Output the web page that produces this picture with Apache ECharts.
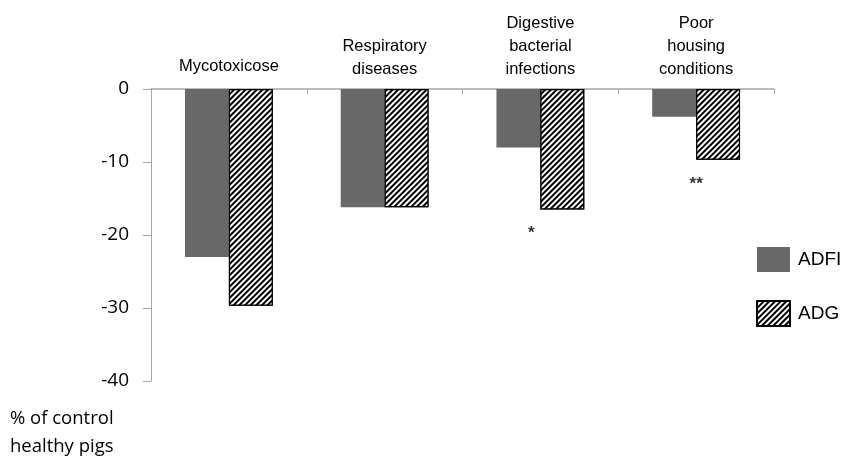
<!DOCTYPE html>
<html>
<head>
<meta charset="utf-8">
<script src="https://cdn.jsdelivr.net/npm/echarts@6/dist/echarts.min.js"></script>
<style>html,body{margin:0;padding:0;background:#fff;}#c{width:841px;height:460px;}</style>
</head>
<body>
<div id="c"></div>
<script>
const categories = ['Mycotoxicose', 'Respiratory\ndiseases', 'Digestive\nbacterial\ninfections', 'Poor\nhousing\nconditions'];
const adfi = [-23.0, -16.2, -8.0, -3.8];
const adg = [-29.7, -16.2, -16.5, -9.7];
const starValues = ['-', '-', -19.3, -12.6];
const starLabels = ['', '', '*', '**'];
const yTicks = [0, -10, -20, -30, -40];

const chart = echarts.init(document.getElementById('c'), null, {renderer: 'canvas'});
chart.setOption({
  animation: false,
  backgroundColor: '#fff',
  grid: {left: 151, right: 67, top: 89, bottom: 79, containLabel: false},
  legend: {
    data: ['ADFI', 'ADG'],
    icon: 'rect',
    orient: 'vertical',
    left: 751, top: 242,
    itemWidth: 33, itemHeight: 25, itemGap: 28,
    textStyle: {fontFamily: 'Liberation Sans, Arial, sans-serif', fontSize: 19, color: '#000', padding: [0, 0, 0, 3]},
    selectedMode: false
  },
  xAxis: {
    type: 'category',
    position: 'top',
    data: categories,
    axisLine: {lineStyle: {color: '#a6a6a6', width: 1.5}},
    axisTick: {show: true, inside: true, length: 5, lineStyle: {color: '#a6a6a6'}},
    axisLabel: {
      interval: 0,
      margin: 8,
      fontFamily: 'Liberation Sans, Arial, sans-serif',
      fontSize: 16.5,
      lineHeight: 23,
      color: '#000',
      formatter: function (v, i) { return i === 0 ? '{m|' + v + '}' : v; },
      rich: {m: {fontFamily: 'Liberation Sans, Arial, sans-serif', fontSize: 16.5, lineHeight: 23, color: '#000', padding: [0, 0, 7, 0]}}
    },
    splitLine: {show: false}
  },
  yAxis: {
    type: 'value',
    min: -40, max: 0, interval: 10,
    axisLine: {show: true, lineStyle: {color: '#a6a6a6'}},
    axisTick: {show: true, length: 8, lineStyle: {color: '#a6a6a6'}},
    axisLabel: {
      margin: 22,
      fontFamily: 'Open Sans, Noto Sans, sans-serif',
      fontSize: 19,
      color: '#000',
      formatter: function (v) { return yTicks.indexOf(v) >= 0 ? String(v) : ''; }
    },
    splitLine: {show: false}
  },
  graphic: [{
    type: 'text',
    left: 10, top: 405,
    style: {
      text: '% of control\nhealthy pigs',
      fontFamily: 'Open Sans, Noto Sans, sans-serif',
      fontSize: 18.5,
      lineHeight: 28,
      fill: '#000'
    }
  }],
  series: [
    {
      name: 'ADFI', type: 'bar', data: adfi,
      barWidth: '28.2%', barGap: '0%',
      itemStyle: {color: '#686868'}
    },
    {
      name: 'ADG', type: 'bar', data: adg,
      barWidth: '28.2%', barGap: '0%',
      itemStyle: {
        color: '#fff', borderColor: '#000', borderWidth: 1.2,
        decal: {symbol: 'rect', symbolSize: 1, color: '#000', backgroundColor: '#fff',
                dashArrayX: [1, 0], dashArrayY: [1.5, 1.5], rotation: -Math.PI / 4}
      }
    },
    {
      name: 'sig', type: 'scatter',
      data: starValues.map(function (v, i) {
        return {value: v, label: {offset: i === 2 ? [-9, 3] : [0, 3]}};
      }),
      symbolSize: 0, silent: true,
      label: {
        show: true, position: 'inside',
        formatter: function (p) { return starLabels[p.dataIndex]; },
        fontFamily: 'Liberation Sans, Arial, sans-serif', fontSize: 17, fontWeight: 'bold', color: '#000'
      }
    }
  ]
});
</script>
</body>
</html>
